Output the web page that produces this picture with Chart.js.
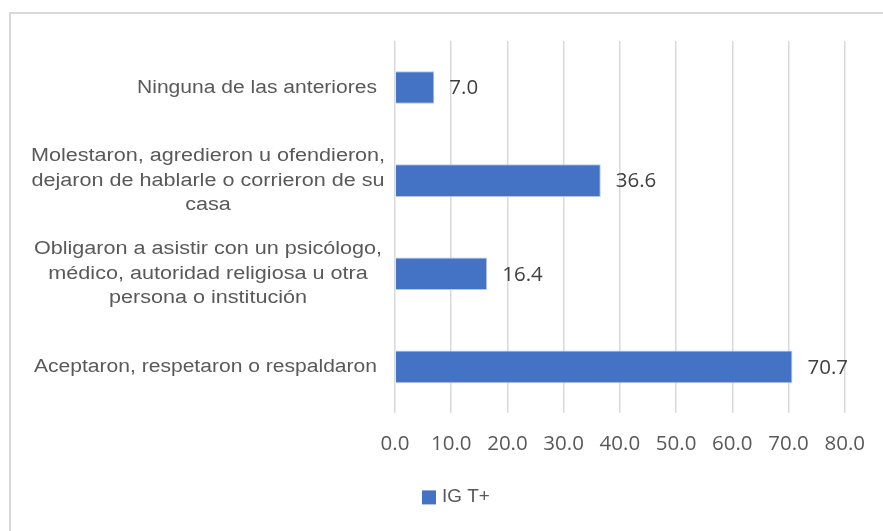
<!DOCTYPE html>
<html>
<head>
<meta charset="utf-8">
<script src="https://cdn.jsdelivr.net/npm/chart.js@4/dist/chart.umd.min.js"></script>
<style>
  html, body { margin: 0; padding: 0; background: #fff; }
  #wrap { position: relative; width: 883px; height: 531px; overflow: hidden; }
  #frame { position: absolute; left: 9px; top: 12px; width: 900px; height: 600px;
           border-left: 2px solid #d9d9d9; border-top: 2px solid #d9d9d9; }
  canvas { position: absolute; left: 0; top: 0; }
</style>
</head>
<body>
<div id="wrap">
  <div id="frame"></div>
  <canvas id="chart" width="883" height="531"></canvas>
</div>
<script>
const categories = [
  ['Ninguna de las anteriores'],
  ['Molestaron, agredieron u ofendieron,', 'dejaron de hablarle o corrieron de su', 'casa'],
  ['Obligaron a asistir con un psicólogo,', 'médico, autoridad religiosa u otra', 'persona o institución'],
  ['Aceptaron, respetaron o respaldaron']
];
const seriesName = 'IG T+';
const values = [7.0, 36.6, 16.4, 70.7];
const xTicks = [0, 10, 20, 30, 40, 50, 60, 70, 80];

const barColor = '#4472C4';
const textColor = '#595959';

// texto un poco ensanchado, como en la imagen original
function wideText(ctx, t, x, y, align, sx) {
  ctx.save();
  ctx.translate(x, y);
  ctx.scale(sx, 1);
  ctx.textAlign = align;
  ctx.fillText(t, 0, 0);
  ctx.restore();
}

// etiquetas de categoría, valores y leyenda (al estilo Excel)
const excelLabels = {
  id: 'excelLabels',
  afterDatasetsDraw(chart) {
    const ctx = chart.ctx;
    const area = chart.chartArea;
    const yScale = chart.scales.y;
    const meta = chart.getDatasetMeta(0);
    ctx.save();
    ctx.textBaseline = 'middle';

    // valores
    ctx.font = '20.5px "Open Sans", sans-serif';
    ctx.fillStyle = '#404040';
    ctx.textAlign = 'left';
    meta.data.forEach((bar, i) => {
      ctx.fillText(values[i].toFixed(1), bar.x + 15, bar.y + 1);
    });

    // categorías
    ctx.font = '18px Arial, "Liberation Sans", sans-serif';
    ctx.fillStyle = textColor;
    const lh = 24.5;
    categories.forEach((lines, i) => {
      const yc = yScale.getPixelForValue(i);
      if (lines.length === 1) {
        wideText(ctx, lines[0], area.left - 18, yc, 'right', 1.17);
      } else {
        const y0 = yc - (lines.length - 1) * lh / 2;
        lines.forEach((t, k) => wideText(ctx, t, area.left - 187, y0 + k * lh, 'center', 1.2));
      }
    });

    // leyenda
    const ly = area.bottom + 84;
    const lx = area.left + 27;
    ctx.fillStyle = barColor;
    ctx.fillRect(lx, ly - 7, 14, 14);
    ctx.font = '18px Arial, "Liberation Sans", sans-serif';
    ctx.fillStyle = textColor;
    wideText(ctx, seriesName, lx + 20, ly, 'left', 1.05);
    ctx.restore();
  }
};

new Chart(document.getElementById('chart'), {
  type: 'bar',
  data: {
    labels: categories,
    datasets: [{
      label: seriesName,
      data: values,
      backgroundColor: barColor,
      borderColor: '#b4c7e7',
      borderWidth: 1,
      barPercentage: 0.35,
      categoryPercentage: 1
    }]
  },
  options: {
    indexAxis: 'y',
    responsive: false,
    animation: false,
    layout: { padding: { left: 395, right: 37, top: 41, bottom: 57 } },
    scales: {
      x: {
        min: 0,
        max: 80,
        afterBuildTicks: (s) => { s.ticks = xTicks.map(v => ({ value: v })); },
        grid: { color: '#d9d9d9', lineWidth: 1.5, drawTicks: false },
        border: { display: false },
        ticks: {
          padding: 18,
          color: textColor,
          font: { family: '"Open Sans", sans-serif', size: 20.5 },
          callback: (v) => Number(v).toFixed(1)
        }
      },
      y: {
        grid: { display: false },
        border: { display: false },
        ticks: { display: false },
        afterFit: (s) => { s.width = 0; }
      }
    },
    plugins: {
      legend: { display: false },
      tooltip: { enabled: false }
    }
  },
  plugins: [excelLabels]
});
</script>
</body>
</html>
